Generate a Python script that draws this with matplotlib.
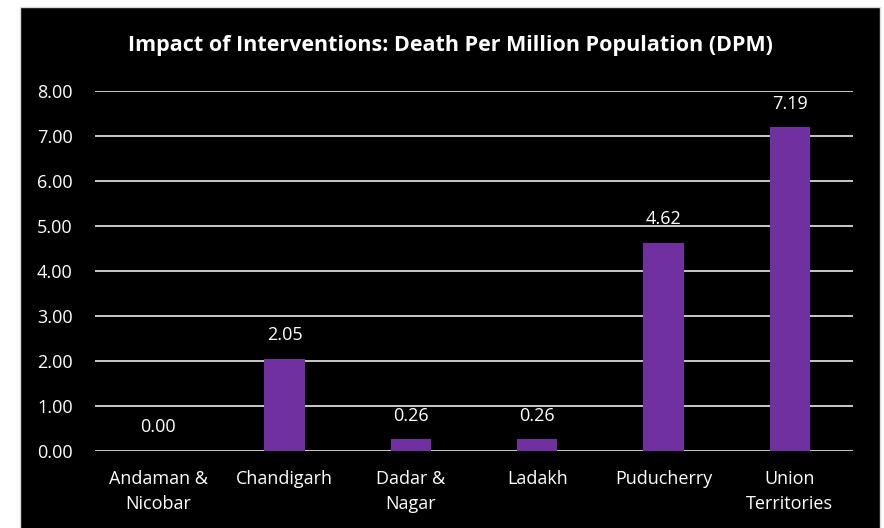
import matplotlib
matplotlib.use("Agg")
import matplotlib.pyplot as plt
from matplotlib.patches import Rectangle

categories = ["Andaman &\nNicobar", "Chandigarh", "Dadar &\nNagar", "Ladakh", "Puducherry", "Union\nTerritories"]
values = [0.00, 2.05, 0.26, 0.26, 4.62, 7.19]
yticks = [0, 1, 2, 3, 4, 5, 6, 7, 8]
title = "Impact of Interventions: Death Per Million Population (DPM)"

plt.rcParams['font.family'] = ['Open Sans', 'DejaVu Sans']

fig = plt.figure(figsize=(8.84, 5.28), dpi=100)
fig.patch.set_facecolor('white')
fig.add_artist(Rectangle((20/884, -0.01), 860/884, (528-7)/528 + 0.01,
                         transform=fig.transFigure, facecolor='black',
                         edgecolor='#d9d9d9', linewidth=1.0, zorder=0))

ax = fig.add_axes([95/884, 1-451/528, 758/884, 360/528])
ax.set_facecolor('none')
x = list(range(len(categories)))
bars = ax.bar(x, values, width=0.32, color='#7030a0', zorder=3)
ax.set_xlim(-0.5, len(categories)-0.5)
ax.set_ylim(0, 8)
ax.set_yticks(yticks)
ax.set_yticklabels([f"{v:.2f}" for v in yticks])
ax.set_xticks(x)
ax.set_xticklabels(categories, linespacing=1.45)
ax.tick_params(axis='both', colors='white', labelsize=13, length=0)
ax.tick_params(axis='y', pad=16)
ax.tick_params(axis='x', pad=14)
ax.grid(axis='y', color='#d9d9d9', linewidth=1.3, zorder=1)
ax.set_axisbelow(True)
for s in ax.spines.values():
    s.set_visible(False)

for xi, v in zip(x, values):
    ax.annotate(f"{v:.2f}", (xi, v), xytext=(0, 13.5), textcoords='offset points',
                ha='center', va='baseline', color='white', fontsize=13)

fig.text(450/884, 1-51/528, title, ha='center', va='baseline', color='white',
         fontsize=15.5, fontweight='bold')

fig.savefig('out.png', dpi=100, facecolor=fig.get_facecolor())
